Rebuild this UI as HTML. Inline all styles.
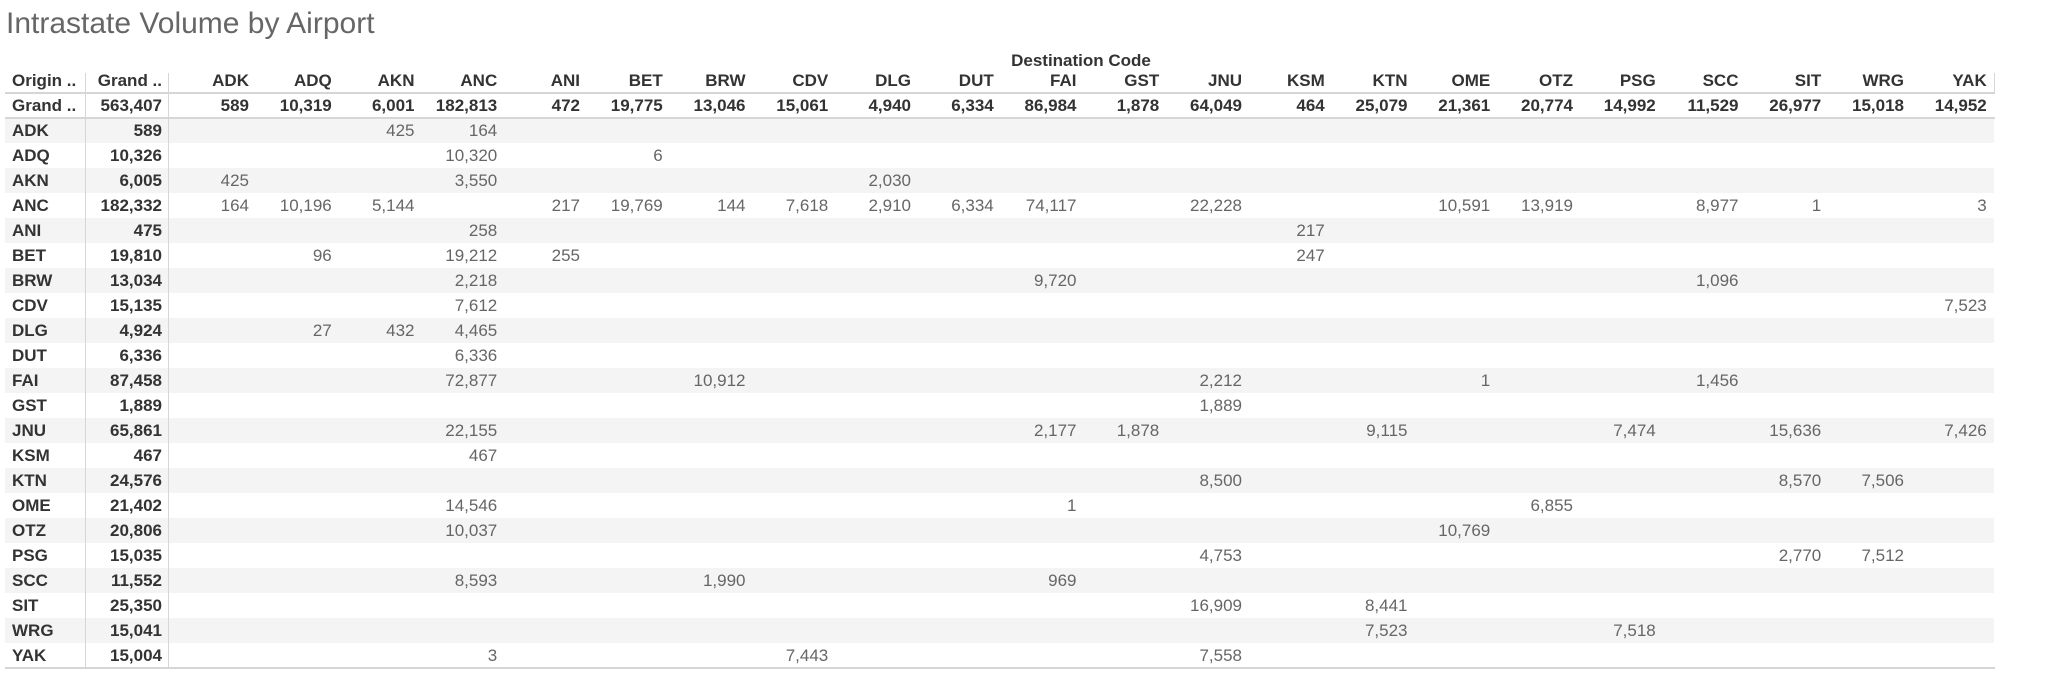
<!DOCTYPE html>
<html><head><meta charset="utf-8">
<style>
html,body{margin:0;padding:0;background:#fff;width:2048px;height:697px;overflow:hidden;font-family:"Liberation Sans",sans-serif;}
#root{position:relative;width:2048px;height:697px;}
.t{position:absolute;white-space:nowrap;font-size:17px;line-height:25px;}
.b{font-weight:bold;color:#333;}
.v{color:#666;}
.band{position:absolute;left:5px;width:1989px;height:25px;background:#f4f4f4;}
.ln{position:absolute;background:#d6d6d6;}
</style></head>
<body><div id="root">
<div class="t" style="left:6px;top:4px;font-size:30px;line-height:40px;color:#666;">Intrastate Volume by Airport</div>
<div class="t b" style="left:168px;width:1826px;text-align:center;top:50px;line-height:22px;font-size:17px;">Destination Code</div>
</div>
<script>
const destCodes=["ADK","ADQ","AKN","ANC","ANI","BET","BRW","CDV","DLG","DUT","FAI","GST","JNU","KSM","KTN","OME","OTZ","PSG","SCC","SIT","WRG","YAK"];
const destTotals=["589","10,319","6,001","182,813","472","19,775","13,046","15,061","4,940","6,334","86,984","1,878","64,049","464","25,079","21,361","20,774","14,992","11,529","26,977","15,018","14,952"];
const originCodes=["ADK","ADQ","AKN","ANC","ANI","BET","BRW","CDV","DLG","DUT","FAI","GST","JNU","KSM","KTN","OME","OTZ","PSG","SCC","SIT","WRG","YAK"];
const originTotals=["589","10,326","6,005","182,332","475","19,810","13,034","15,135","4,924","6,336","87,458","1,889","65,861","467","24,576","21,402","20,806","15,035","11,552","25,350","15,041","15,004"];
const grandTotal="563,407";
const cells=[
{ADK:0,AKN:"425",ANC:"164"},
{ANC:"10,320",BET:"6"},
{ADK:"425",ANC:"3,550",DLG:"2,030"},
{ADK:"164",ADQ:"10,196",AKN:"5,144",ANI:"217",BET:"19,769",BRW:"144",CDV:"7,618",DLG:"2,910",DUT:"6,334",FAI:"74,117",JNU:"22,228",OME:"10,591",OTZ:"13,919",SCC:"8,977",SIT:"1",YAK:"3"},
{ANC:"258",KSM:"217"},
{ADQ:"96",ANC:"19,212",ANI:"255",KSM:"247"},
{ANC:"2,218",FAI:"9,720",SCC:"1,096"},
{ANC:"7,612",YAK:"7,523"},
{ADQ:"27",AKN:"432",ANC:"4,465"},
{ANC:"6,336"},
{ANC:"72,877",BRW:"10,912",JNU:"2,212",OME:"1",SCC:"1,456"},
{JNU:"1,889"},
{ANC:"22,155",FAI:"2,177",GST:"1,878",KTN:"9,115",PSG:"7,474",SIT:"15,636",YAK:"7,426"},
{ANC:"467"},
{JNU:"8,500",SIT:"8,570",WRG:"7,506"},
{ANC:"14,546",FAI:"1",OTZ:"6,855"},
{ANC:"10,037",OME:"10,769"},
{JNU:"4,753",SIT:"2,770",WRG:"7,512"},
{ANC:"8,593",BRW:"1,990",FAI:"969"},
{JNU:"16,909",KTN:"8,441"},
{KTN:"7,523",PSG:"7,518"},
{ANC:"3",CDV:"7,443",JNU:"7,558"}
];
const root=document.getElementById('root');
const HEAD_Y=68, GRAND_Y=93, BODY_Y=118, ROW_H=25;
function colRight(i){return 249+82.75*i;}
function txt(s,x,y,cls,align,name){
  const d=document.createElement('div');
  d.className='t '+cls;
  d.textContent=s;
  
  
  if(align==='r'){d.style.left=(x-200)+'px';d.style.width='200px';d.style.textAlign='right';}
  else d.style.left=x+'px';
  d.style.top=y+'px';
  root.appendChild(d);return d;
}
function line(x,y,w,h,name){
  const d=document.createElement('div');d.className='ln';
  
  
  d.style.left=x+'px';d.style.top=y+'px';d.style.width=w+'px';d.style.height=h+'px';
  root.appendChild(d);
}
// bands
originCodes.forEach((o,r)=>{
  if(r%2===0){const b=document.createElement('div');b.className='band';
    
    
    b.style.top=(BODY_Y+r*ROW_H)+'px';root.appendChild(b);}
});
line(85,73,1,595,'origin-column-divider');
line(168,73,1,595,'total-column-divider');
line(5,92,1990,2,'header-rule');
line(5,117,1990,2,'grand-total-rule');
line(5,667,1990,2,'bottom-rule');
line(1994,73,1,20,'header-right-border');
txt('Origin ..',12,HEAD_Y,'b','l','origin-header');
txt('Grand ..',162,HEAD_Y,'b','r','grand-total-header');
txt('Grand ..',12,GRAND_Y,'b','l','grand-total-label');
txt(grandTotal,162,GRAND_Y,'b','r','grand-total-value');
destCodes.forEach((c,i)=>{
  txt(c,colRight(i),HEAD_Y,'b','r','dest-header-'+c.toLowerCase());
  txt(destTotals[i],colRight(i),GRAND_Y,'b','r','dest-total-'+c.toLowerCase());
});
originCodes.forEach((o,r)=>{
  const y=BODY_Y+r*ROW_H;
  txt(o,12,y,'b','l','origin-label-'+o.toLowerCase());
  txt(originTotals[r],162,y,'b','r','origin-total-'+o.toLowerCase());
  destCodes.forEach((c,i)=>{
    const v=cells[r][c];
    if(v) txt(v,colRight(i),y,'v','r','cell-'+o.toLowerCase()+'-'+c.toLowerCase());
  });
});
</script>
</body></html>
